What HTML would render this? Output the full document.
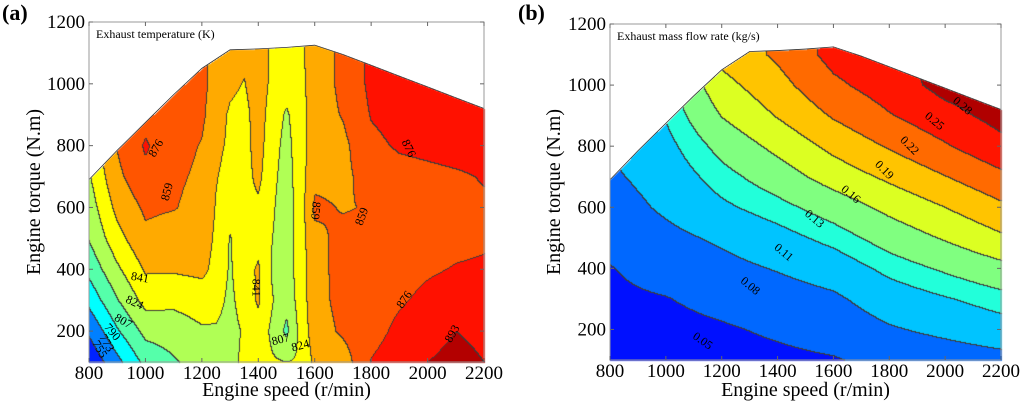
<!DOCTYPE html>
<html><head><meta charset="utf-8">
<style>
html,body{margin:0;padding:0;background:#fff;}
#wrap{position:relative;width:1024px;height:404px;overflow:hidden;font-family:"Liberation Serif",serif;}
canvas{position:absolute;left:0;top:0;}
svg{position:absolute;left:0;top:0;}
svg text{font-family:"Liberation Serif",serif;}
</style></head>
<body>
<div id="wrap">
<canvas id="cv" width="1024" height="404"></canvas>
<svg id="sv" width="1024" height="404"></svg>
</div>
<script>
// ---------- data ----------
const speedsA = [800,900,1000,1100,1200,1250,1300,1350,1400,1450,1500,1550,1600,1700,1800,1900,2000,2100,2200];
const torquesGrid = [100,200,300,400,500,600,700,800,900,1000,1100];
const tempGrid = [
[740,768,795,805,815,818,815,830,830,826,824,826,845,850,877,885,893,897,893],
[758,788,812,815,822,822,818,826,835,820,803,830,850,862,870,880,888,893,890],
[778,806,830,828,832,830,820,832,843,825,812,832,852,865,868,874,880,884,884],
[795,821,843,843,845,836,822,835,843,822,815,833,852,866,866,870,874,877,878],
[808,835,855,850,850,838,823,835,836,824,815,833,855,863,864,868,870,872,874],
[815,846,862,860,853,840,830,836,838,826,815,833,862,858,860,866,868,870,874],
[822,855,872,862,856,842,835,835,845,828,817,833,855,855,866,870,872,874,877],
[828,860,878,865,858,845,838,835,848,830,819,833,852,855,872,878,880,882,882],
[835,862,870,866,862,850,838,835,850,832,822,833,852,860,877,882,883,884,885],
[835,862,868,866,862,855,845,840,852,836,830,835,852,862,880,882,883,884,885],
[835,862,868,866,862,855,850,845,850,838,835,838,850,863,880,882,883,884,885]];
const tempLevels = [755,773,790,807,824,841,859,876,893];
const speedsB = [800,1000,1200,1400,1600,1800,2000,2200];
const flowGrid = [
[.035,.035,.040,.044,.048,.058,.064,.070],
[.040,.042,.047,.054,.062,.077,.087,.098],
[.045,.049,.058,.066,.075,.095,.108,.121],
[.049,.060,.071,.082,.094,.117,.134,.151],
[.058,.072,.085,.100,.118,.142,.163,.185],
[.066,.085,.105,.122,.143,.168,.190,.214],
[.075,.093,.121,.145,.173,.196,.219,.243],
[.082,.102,.139,.168,.198,.223,.247,.272],
[.090,.112,.161,.192,.223,.248,.270,.290],
[.095,.120,.180,.210,.244,.265,.290,.300],
[.100,.130,.200,.225,.260,.275,.290,.300]];
const flowLevels = [0.05,0.08,0.11,0.13,0.16,0.19,0.22,0.25,0.28];
const envSpeeds = [800,900,1000,1100,1200,1300,1400,1500,1600,1700,1800,1900,2000,2100,2200];
const envTorques = [690,785,875,965,1050,1110,1113,1118,1125,1095,1060,1025,990,955,920];
const xTicks = [800,1000,1200,1400,1600,1800,2000,2200];
const yTicks = [200,400,600,800,1000,1200];
const labelsA = [["755",835,140,60],["773",860,160,60],["790",880,195,50],["807",920,230,30],["824",960,290,25],["841",980,370,10],["841",1390,340,90],["807",1480,170,-15],["824",1550,150,-15],["859",1080,650,-75],["876",1040,790,-60],["859",1600,590,95],["859",1770,570,-70],["876",1930,790,65],["876",1920,300,-55],["893",2090,190,-60]];
const labelsB = [["0.05",1130,160,35],["0.08",1300,340,40],["0.11",1420,450,40],["0.13",1530,560,40],["0.16",1660,640,40],["0.19",1780,720,45],["0.22",1870,800,45],["0.25",1960,880,40],["0.28",2060,930,40]];
const colorsA = ["#0022ff","#0080ff","#00ffff","#55ffaa","#b0ff55","#ffff00","#ffaa00","#ff5500","#ff1100","#b30000"];
const colorsB = ["#0010ff","#0068ff","#00c4ff","#22ffda","#80ff80","#dcff22","#ffc400","#ff6a00","#ff1500","#b00000"];

const panels = [
 {name:"a",x0:89,x1:484,y0:22,y1:362,speeds:speedsA,grid:tempGrid,levels:tempLevels,colors:colorsA,labels:labelsA,title:"Exhaust temperature (K)",tag:"(a)",tagX:2,ylabX:40},
 {name:"b",x0:610,x1:1001,y0:24,y1:360,speeds:speedsB,grid:flowGrid,levels:flowLevels,colors:colorsB,labels:labelsB,title:"Exhaust mass flow rate (kg/s)",tag:"(b)",tagX:518,ylabX:560}
];
function hex(c){return [parseInt(c.substr(1,2),16),parseInt(c.substr(3,2),16),parseInt(c.substr(5,2),16)];}
function interp1(xs,ys,x){ if(x<=xs[0])return ys[0]; for(let i=1;i<xs.length;i++){if(x<=xs[i]){const f=(x-xs[i-1])/(xs[i]-xs[i-1]);return ys[i-1]+f*(ys[i]-ys[i-1]);}} return ys[ys.length-1];}
function bilin(p,s,t){
 const sp=p.speeds; let i=0; while(i<sp.length-2 && s>sp[i+1]) i++;
 let fx=(s-sp[i])/(sp[i+1]-sp[i]); fx=Math.max(0,Math.min(1,fx));
 let j=0; while(j<torquesGrid.length-2 && t>torquesGrid[j+1]) j++;
 let fy=(t-torquesGrid[j])/(torquesGrid[j+1]-torquesGrid[j]); fy=Math.max(0,Math.min(1,fy));
 const g=p.grid;
 return (g[j][i]*(1-fx)+g[j][i+1]*fx)*(1-fy)+(g[j+1][i]*(1-fx)+g[j+1][i+1]*fx)*fy;
}
const cv=document.getElementById('cv'); const ctx=cv.getContext('2d');
const img=ctx.createImageData(1024,404);
for(const p of panels){
 const sx=v=>p.x0+(v-800)/1400*(p.x1-p.x0);
 const sy=v=>p.y1-(v-100)/1100*(p.y1-p.y0);
 p.sx=sx;p.sy=sy;
 const W=p.x1-p.x0, H=p.y1-p.y0;
 const lv=[];
 for(let y=0;y<=H;y++){lv.push([]);for(let x=0;x<=W;x++){
   const s=800+x/W*1400, t=100+(H-y)/H*1100;
   if(t>interp1(envSpeeds,envTorques,s)){lv[y].push(-1);continue;}
   const v=bilin(p,s,t); let k=0; while(k<p.levels.length && v>=p.levels[k]) k++;
   lv[y].push(k);
 }}
 for(let y=0;y<=H;y++)for(let x=0;x<=W;x++){
   const k=lv[y][x]; if(k<0) continue;
   let c=hex(p.colors[k]);
   const r=x<W?lv[y][x+1]:k, d=y<H?lv[y+1][x]:k;
   if((r>=0&&r!==k)||(d>=0&&d!==k)) c=[60,60,60];
   const idx=((p.y0+y)*1024+(p.x0+x))*4;
   img.data[idx]=c[0];img.data[idx+1]=c[1];img.data[idx+2]=c[2];img.data[idx+3]=255;
 }
}
ctx.putImageData(img,0,0);
const NS="http://www.w3.org/2000/svg";
const sv=document.getElementById('sv');
function mk(tag,attrs,txt){const e=document.createElementNS(NS,tag);for(const k in attrs)e.setAttribute(k,attrs[k]);if(txt!==undefined)e.textContent=txt;sv.appendChild(e);return e;}
for(const p of panels){
 let d="";
 envSpeeds.forEach((s,i)=>{d+=(i?"L":"M")+p.sx(s)+","+p.sy(envTorques[i]);});
 const env=mk("path",{d:d,fill:"none",stroke:"#333","stroke-width":0.8});
 
 
 const box=mk("rect",{x:p.x0,y:p.y0,width:p.x1-p.x0,height:p.y1-p.y0,fill:"none",stroke:"#999","stroke-width":1});
 
 
 for(const v of xTicks){
  const x=p.sx(v);
  mk("line",{x1:x,x2:x,y1:p.y1,y2:p.y1-4,stroke:"#666"});
  mk("line",{x1:x,x2:x,y1:p.y0,y2:p.y0+4,stroke:"#666"});
  const t=mk("text",{x:x,y:p.y1+17,"text-anchor":"middle","font-size":"19px"},String(v));
  
  
 }
 for(const v of yTicks){
  const y=p.sy(v);
  mk("line",{x1:p.x0,x2:p.x0+4,y1:y,y2:y,stroke:"#666"});
  mk("line",{x1:p.x1,x2:p.x1-4,y1:y,y2:y,stroke:"#666"});
  const t=mk("text",{x:p.x0-4,y:y+6,"text-anchor":"end","font-size":"19px"},String(v));
  
  
 }
 for(const L of p.labels){
  const x=p.sx(L[1]),y=p.sy(L[2]);
  const t=mk("text",{x:x,y:y,"text-anchor":"middle","dominant-baseline":"middle","font-size":"12px",transform:"rotate("+L[3]+" "+x+" "+y+")"},L[0]);
  
  
 }
 const ti=mk("text",{x:p.x0+7,y:p.y0+16,"font-size":"12px"},p.title);
 
 
 const xl=mk("text",{x:(p.x0+p.x1)/2,y:396,"text-anchor":"middle","font-size":"20px"},"Engine speed (r/min)");
 
 
 const yc=(p.y0+p.y1)/2;
 const yl=mk("text",{x:p.ylabX,y:yc,"text-anchor":"middle","font-size":"20px",transform:"rotate(-90 "+p.ylabX+" "+yc+")"},"Engine torque (N.m)");
 
 
 const tg=mk("text",{x:p.tagX,y:20,"font-size":"22px","font-weight":"bold"},p.tag);
 
 
}
</script>
</body></html>
